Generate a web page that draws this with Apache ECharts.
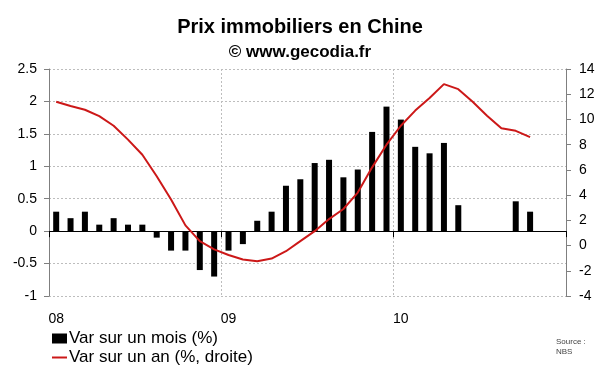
<!DOCTYPE html>
<html>
<head>
<meta charset="utf-8">
<script src="https://cdn.jsdelivr.net/npm/echarts@6/dist/echarts.min.js"></script>
<style>
html,body{margin:0;padding:0;background:#fff;}
#c{width:600px;height:372px;}
</style>
</head>
<body>
<div id="c"></div>
<script>
// Months Jan 2008 - Dec 2010
const months = [
  '2008-01','2008-02','2008-03','2008-04','2008-05','2008-06','2008-07','2008-08','2008-09','2008-10','2008-11','2008-12',
  '2009-01','2009-02','2009-03','2009-04','2009-05','2009-06','2009-07','2009-08','2009-09','2009-10','2009-11','2009-12',
  '2010-01','2010-02','2010-03','2010-04','2010-05','2010-06','2010-07','2010-08','2010-09','2010-10','2010-11','2010-12'
];
const yearLabels = ['08', '09', '10'];
// Monthly change (%), left axis
const varMois = [
  0.3, 0.2, 0.3, 0.1, 0.2, 0.1, 0.1, -0.1, -0.3, -0.3, -0.6, -0.7,
  -0.3, -0.2, 0.16, 0.3, 0.7, 0.8, 1.05, 1.1, 0.83, 0.95, 1.53, 1.92,
  1.72, 1.3, 1.2, 1.36, 0.4, null, null, null, 0.46, 0.3, null, null
];
// Yearly change (%), right axis
const varAn = [
  11.4, 11.06, 10.77, 10.26, 9.5, 8.4, 7.2, 5.5, 3.65, 1.6, 0.35, -0.3,
  -0.75, -1.1, -1.24, -1.03, -0.45, 0.35, 1.14, 2.1, 2.9, 4.2, 6.2, 8.0,
  9.5, 10.7, 11.7, 12.8, 12.4, 11.4, 10.3, 9.3, 9.1, 8.6, null, null
];
const leftTicks = { min: -1, max: 2.5, interval: 0.5 };
const rightTicks = { min: -4, max: 14, interval: 2 };

const FONT = "'Liberation Sans', Arial, sans-serif";
const chart = echarts.init(document.getElementById('c'), null, { renderer: 'canvas' });
chart.setOption({
  backgroundColor: '#fff',
  animation: false,
  title: [
    { text: 'Prix immobiliers en Chine', left: 'center', top: 12,
      textStyle: { fontFamily: FONT, fontSize: 20, fontWeight: 'bold', color: '#000' } },
    { text: '© www.gecodia.fr', left: 'center', top: 39,
      textStyle: { fontFamily: FONT, fontSize: 17, fontWeight: 'bold', color: '#000' } }
  ],
  grid: { left: 49, right: 34, top: 69, bottom: 76, containLabel: false },
  legend: [
    { data: ['Var sur un mois (%)'], left: 52, top: 330, padding: 0, orient: 'vertical',
      icon: 'rect', itemWidth: 15, itemHeight: 10,
      textStyle: { fontFamily: FONT, fontSize: 17, color: '#000', padding: [0, 0, 0, -3] } },
    { data: ['Var sur un an (%, droite)'], left: 52, top: 349, padding: 0, orient: 'vertical',
      icon: 'rect', itemWidth: 15, itemHeight: 2,
      textStyle: { fontFamily: FONT, fontSize: 17, color: '#000', padding: [0, 0, 0, -3] } }
  ],
  xAxis: [
    {
      type: 'category', data: months, boundaryGap: true,
      axisLine: { onZero: true, onZeroAxisIndex: 0, lineStyle: { color: '#000', width: 1 } },
      axisTick: { show: true, interval: 11, length: 6, lineStyle: { color: '#000' } },
      axisLabel: { show: false },
      splitLine: { show: true, interval: 11, lineStyle: { color: '#bdbdbd', type: [2, 2] } }
    },
    {
      type: 'category', data: months, boundaryGap: true, position: 'bottom',
      axisLine: { show: false, onZero: false },
      axisTick: { show: false },
      axisLabel: { show: true, interval: 0, margin: 16,
        fontFamily: FONT, fontSize: 14, color: '#000',
        formatter: (v, i) => (i % 12 === 0 ? yearLabels[i / 12] : '') },
      splitLine: { show: false }
    }
  ],
  yAxis: [
    {
      type: 'value', position: 'left', min: leftTicks.min, max: leftTicks.max, interval: leftTicks.interval,
      axisLine: { show: true, lineStyle: { color: '#7f7f7f' } },
      axisTick: { show: true, length: 5, lineStyle: { color: '#7f7f7f' } },
      axisLabel: { fontFamily: FONT, fontSize: 14, color: '#000', margin: 12 },
      splitLine: { show: true, lineStyle: { color: '#bdbdbd', type: [2, 2] } }
    },
    {
      type: 'value', position: 'right', min: rightTicks.min, max: rightTicks.max, interval: rightTicks.interval,
      axisLine: { show: true, lineStyle: { color: '#7f7f7f' } },
      axisTick: { show: true, length: 5, lineStyle: { color: '#7f7f7f' } },
      axisLabel: { fontFamily: FONT, fontSize: 14, color: '#000', margin: 13 },
      splitLine: { show: false }
    }
  ],
  series: [
    {
      name: 'Var sur un mois (%)', type: 'bar', xAxisIndex: 0, yAxisIndex: 0,
      data: varMois, barWidth: 6, itemStyle: { color: '#000' }, z: 3
    },
    {
      name: 'Var sur un an (%, droite)', type: 'line', xAxisIndex: 0, yAxisIndex: 1,
      data: varAn, symbol: 'none', connectNulls: false,
      lineStyle: { color: '#cc1818', width: 2 }, itemStyle: { color: '#cc1818' }, z: 4
    }
  ],
  graphic: [
    { type: 'text', left: 556, top: 337,
      style: { text: 'Source :\nNBS', font: '8px ' + FONT, fill: '#444', lineHeight: 10 } }
  ]
});
</script>
</body>
</html>
